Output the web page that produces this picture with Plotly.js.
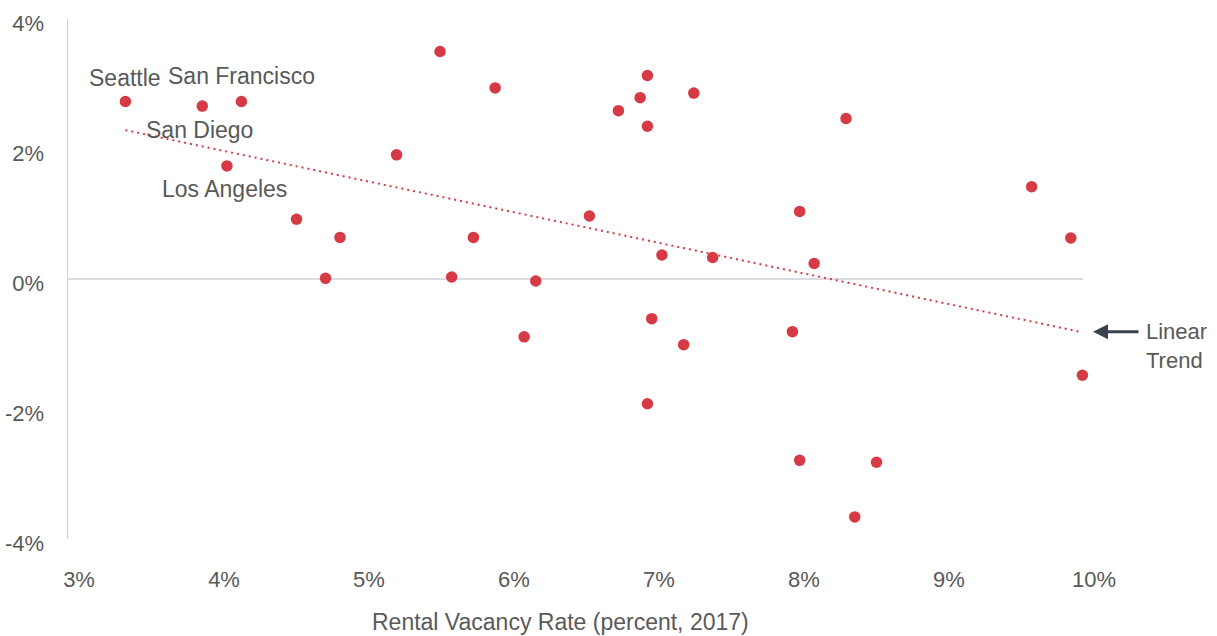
<!DOCTYPE html>
<html>
<head>
<meta charset="utf-8">
<script src="https://cdn.plot.ly/plotly-3.0.1.min.js"></script>
<style>
  html, body { margin: 0; padding: 0; background: #ffffff; }
  #chart { width: 1217px; height: 636px; }
</style>
</head>
<body>
<div id="chart"></div>
<script>
// Rental vacancy rate (percent, 2017) by metro
const vacancyRate = [3.32, 3.85, 4.02, 4.12, 4.50, 4.70, 4.80, 5.19, 5.49, 5.57,
                     5.72, 5.87, 6.07, 6.15, 6.52, 6.72, 6.87, 6.92, 6.92, 6.92,
                     6.95, 7.02, 7.17, 7.24, 7.37, 7.92, 7.97, 7.97, 8.07, 8.29,
                     8.35, 8.50, 9.57, 9.84, 9.92];
// Change (y-axis, percent)
const rentChange = [2.73, 2.66, 1.74, 2.73, 0.92, 0.01, 0.64, 1.91, 3.50, 0.03,
                    0.64, 2.94, -0.89, -0.03, 0.97, 2.59, 2.79, 3.13, 2.35, -1.92,
                    -0.61, 0.37, -1.01, 2.86, 0.33, -0.81, 1.04, -2.79, 0.24, 2.47,
                    -3.66, -2.82, 1.42, 0.63, -1.48];
// Linear trend endpoints
const trendX = [3.32, 9.90];
const trendY = [2.29, -0.81];
// Tick labels
const xTickVals = [3, 4, 5, 6, 7, 8, 9, 10];
const xTickText = ['3%', '4%', '5%', '6%', '7%', '8%', '9%', '10%'];
const yTickVals = [-4, -2, 0, 2, 4];
const yTickText = ['-4%', '-2%', '0%', '2%', '4%'];
// City labels
const cityNames = ['Seattle', 'San Francisco', 'San Diego', 'Los Angeles'];
const cityLabelX = [3.316, 4.122, 3.830, 4.00];
const cityLabelY = [3.10, 3.12, 2.29, 1.39];

const red = '#d63a45';
const textGray = '#595959';
const axisGray = '#cdd1d8';

const traces = [
  {
    type: 'scatter', mode: 'lines',
    x: trendX, y: trendY,
    line: { color: red, width: 2, dash: '2px,4px' },
    hoverinfo: 'skip', showlegend: false
  },
  {
    type: 'scatter', mode: 'markers',
    x: vacancyRate, y: rentChange,
    marker: { color: red, size: 11.5, line: { width: 0 } },
    showlegend: false
  }
];

const annotations = cityNames.map((name, i) => ({
  x: cityLabelX[i], y: cityLabelY[i], xref: 'x', yref: 'y',
  text: name, showarrow: false, xanchor: 'center', yanchor: 'middle',
  font: { size: 23, color: textGray }
}));

annotations.push({
  x: 9.993, y: -0.811, xref: 'x', yref: 'y',
  ax: 47, ay: 0, axref: 'pixel', ayref: 'pixel',
  text: '', showarrow: true, arrowhead: 2, arrowsize: 1, arrowwidth: 3,
  arrowcolor: '#37424c', standoff: 0
});
annotations.push({
  x: 1.0487, y: 0.371, xref: 'paper', yref: 'paper',
  text: 'Linear<br>Trend', showarrow: false, xanchor: 'left', yanchor: 'middle',
  align: 'left', font: { size: 22, color: textGray }
});
annotations.push({
  x: 0.4805, y: -0.1596, xref: 'paper', yref: 'paper',
  text: 'Rental Vacancy Rate (percent, 2017)', showarrow: false,
  xanchor: 'center', yanchor: 'middle',
  font: { size: 23, color: textGray }
});

const layout = {
  width: 1217, height: 636,
  margin: { l: 68, r: 123, t: 19, b: 97, pad: 0 },
  paper_bgcolor: '#ffffff', plot_bgcolor: '#ffffff',
  font: { family: '"Liberation Sans", Arial, sans-serif', color: textGray, size: 22 },
  showlegend: false,
  xaxis: {
    range: [2.924, 10.0],
    tickvals: xTickVals, ticktext: xTickText,
    showgrid: false, zeroline: false, showline: false, ticks: '',
    ticklabelstandoff: 25,
    tickfont: { size: 22, color: textGray }
  },
  yaxis: {
    range: [-4, 4],
    tickvals: yTickVals, ticktext: yTickText,
    showgrid: false, zeroline: false,
    showline: true, linecolor: axisGray, linewidth: 1.5,
    ticks: '', ticklabelstandoff: 18, ticklabelshift: 4,
    tickfont: { size: 22, color: textGray }
  },
  shapes: [
    {
      type: 'line', xref: 'x', yref: 'y',
      x0: 2.924, x1: 9.924, y0: 0, y1: 0,
      line: { color: axisGray, width: 1.5 }, layer: 'below'
    }
  ],
  annotations: annotations
};

Plotly.newPlot('chart', traces, layout, { displayModeBar: false, staticPlot: true });
</script>
</body>
</html>
